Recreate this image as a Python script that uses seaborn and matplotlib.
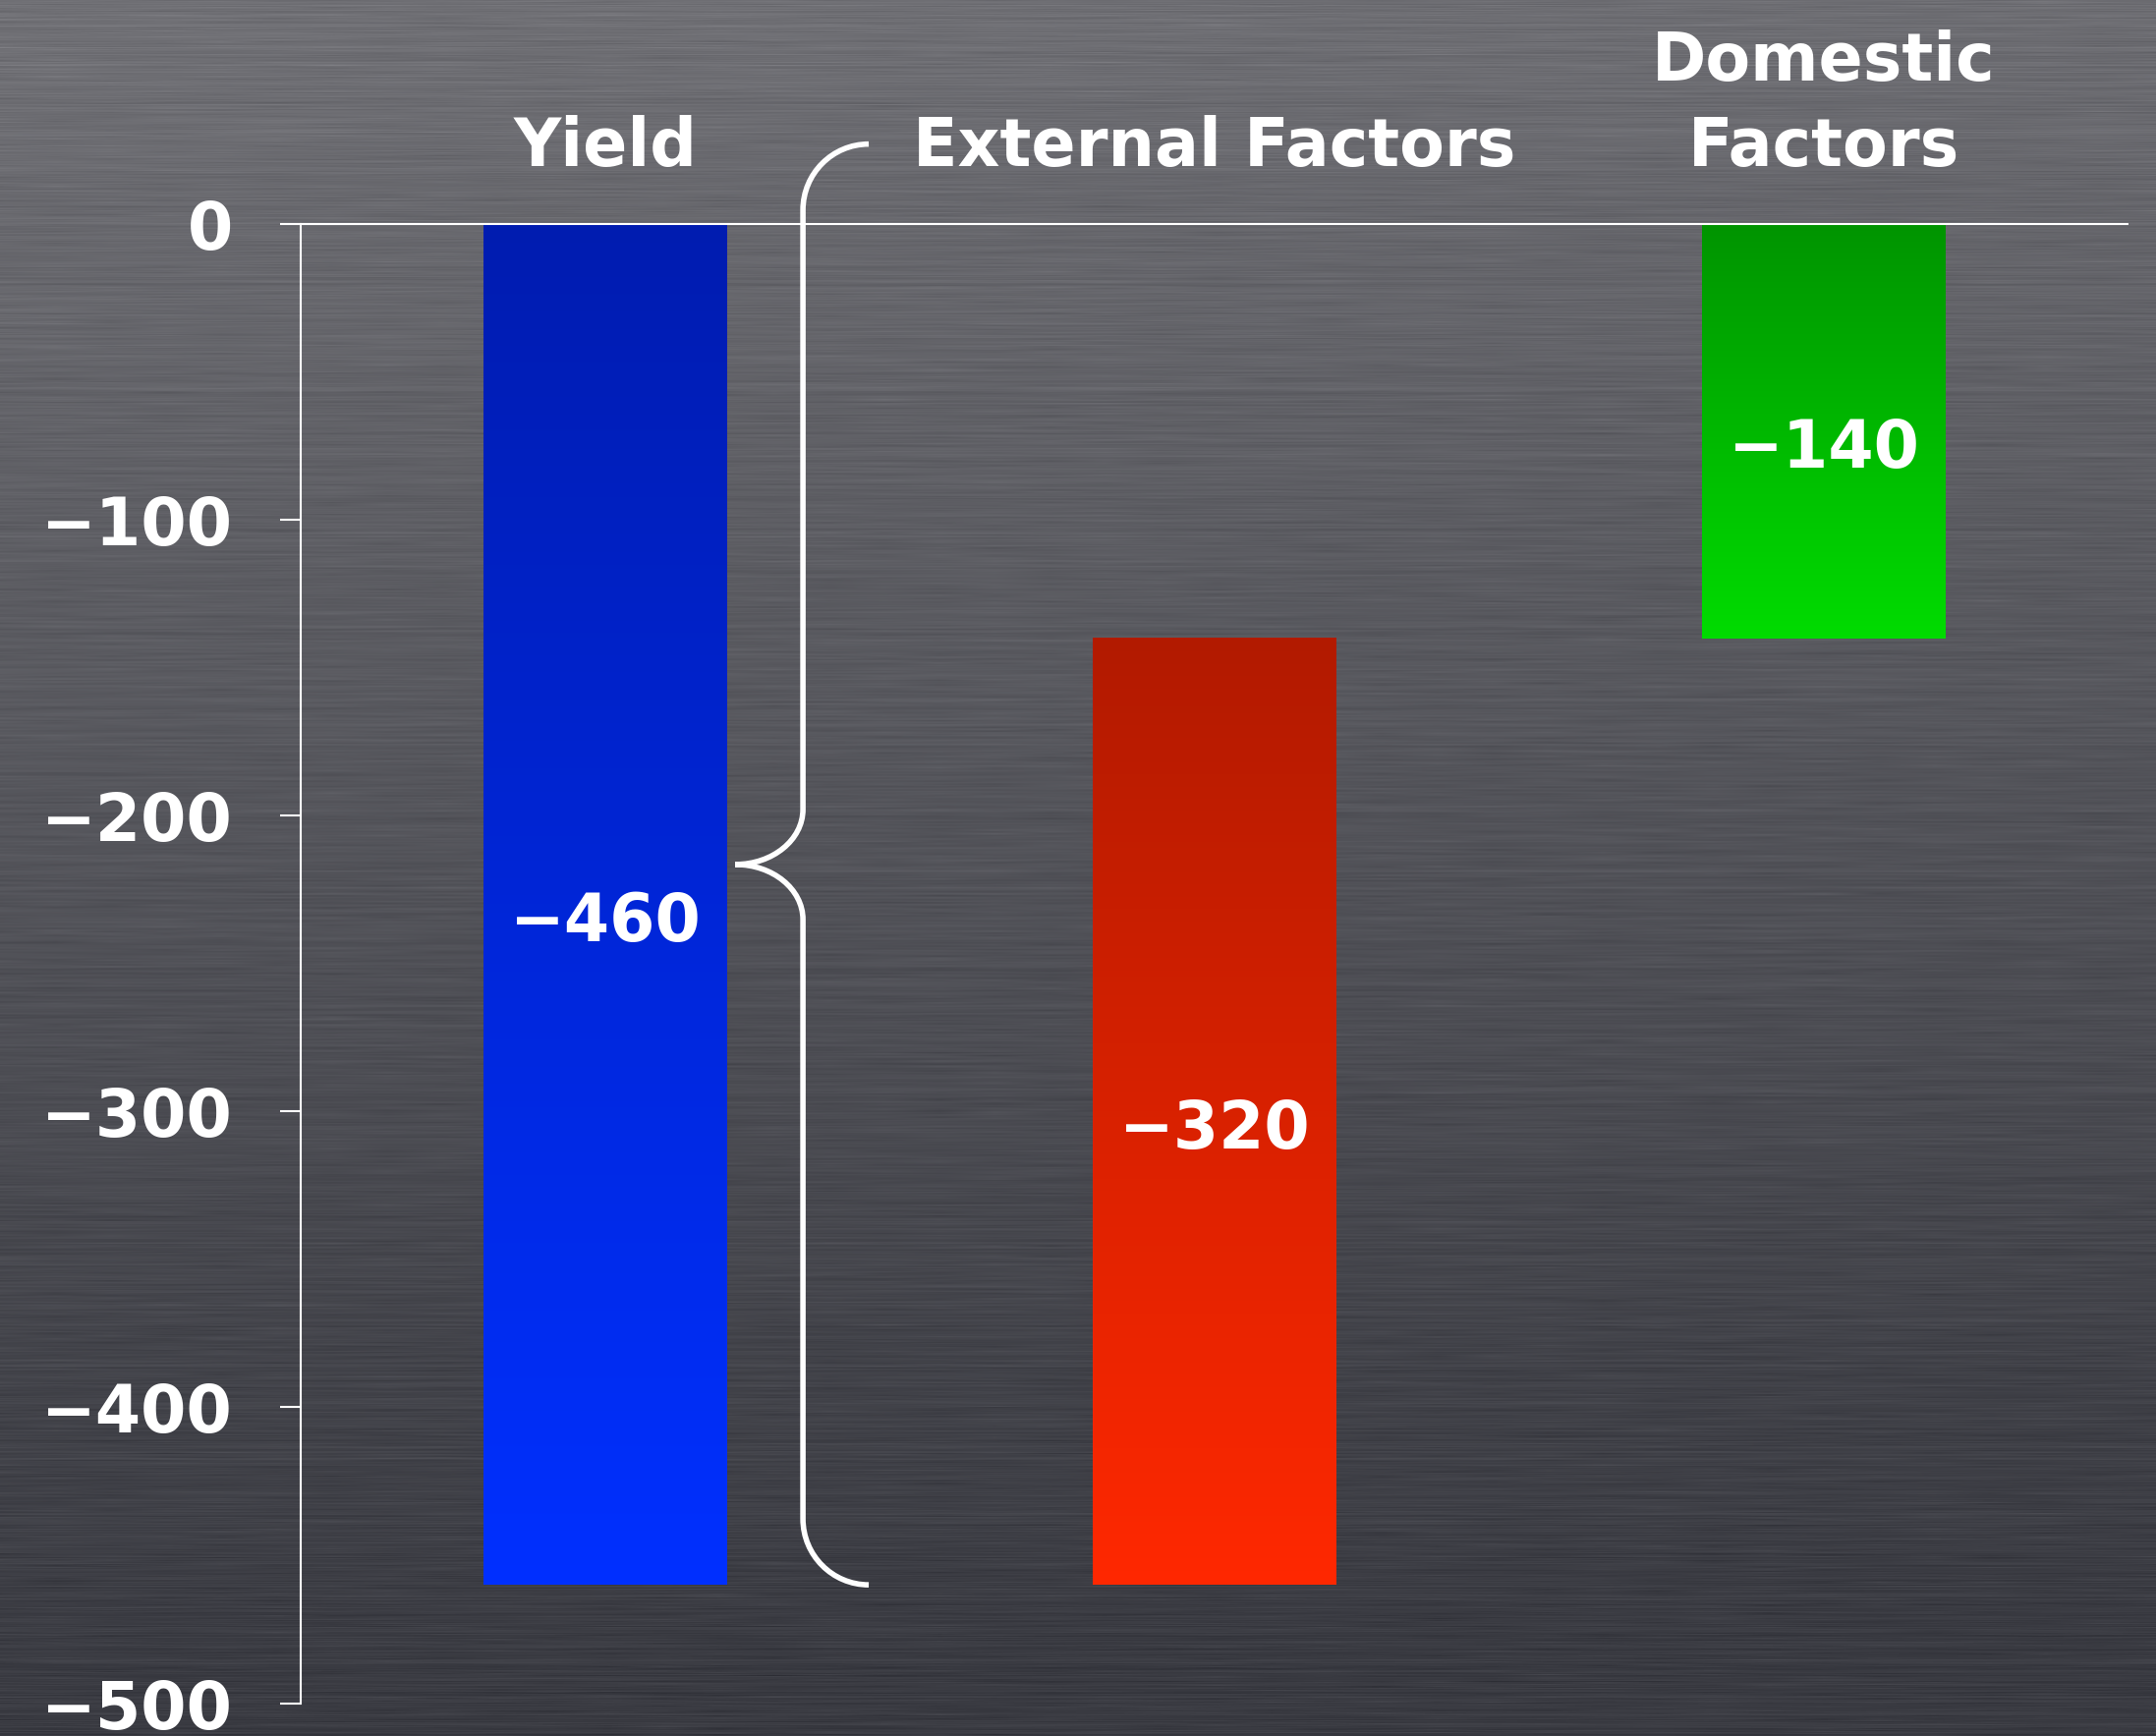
import numpy as np
import matplotlib
matplotlib.use("Agg")
import matplotlib.pyplot as plt
from matplotlib.colors import to_rgb
from matplotlib.path import Path
from matplotlib.patches import PathPatch
import seaborn as sns

# Waterfall data: each step's change and where it starts
categories = ["Yield", "External Factors", "Domestic\nFactors"]
deltas = [-460, -320, -140]
starts = [0, -140, 0]
value_labels = ["\u2212460", "\u2212320", "\u2212140"]
yticks = [0, -100, -200, -300, -400, -500]

# Vertical gradient colours (top, bottom) for each bar
bar_top_colors = ["#001cb0", "#b21a00", "#009400"]
bar_bottom_colors = ["#0030ff", "#ff2800", "#00dc00"]

sns.set_style("white")
plt.rcParams["font.family"] = ["DejaVu Sans"]

W, H = 2194, 1767
fig = plt.figure(figsize=(W / 100, H / 100), dpi=100)
ax = fig.add_axes([0, 0, 1, 1])

XLIM = (-0.994, 2.545)
YLIM = (-511.1, 75.7)

# Brushed-metal backdrop: dark gradient with horizontal streaks
rng = np.random.default_rng(11)
yy = np.linspace(0, 1, H)[:, None]
xx = np.linspace(0, 1, W)[None, :]
shade = (1 - yy) - 0.06 * xx
top_c = np.array([113, 113, 118]) / 255
bot_c = np.array([58, 59, 66]) / 255
base = bot_c[None, None, :] + (top_c - bot_c)[None, None, :] * np.clip(shade, 0, 1)[..., None] ** 1.1
coarse = rng.normal(0, 1, size=(H, 40))
xs_c = np.linspace(0, W - 1, 40)
streak = np.empty((H, W))
xi = np.arange(W)
for r in range(H):
    streak[r] = np.interp(xi, xs_c, coarse[r])
row = rng.normal(0, 1, size=(H, 1))
tex = 0.013 * streak + 0.010 * row
bg = np.clip(base + tex[..., None], 0, 1)
ax.imshow(bg, extent=(XLIM[0], XLIM[1], YLIM[0], YLIM[1]), aspect="auto",
          zorder=0, interpolation="bilinear")

# Bars through seaborn, then shifted to their waterfall start
sns.barplot(x=categories, y=deltas, ax=ax, errorbar=None, width=0.4,
            color="#0028e0", saturation=1, zorder=2)
for patch, start, c_top, c_bot in zip(ax.patches, starts, bar_top_colors, bar_bottom_colors):
    patch.set_y(start)
    patch.set_linewidth(0)
    x0 = patch.get_x()
    w = patch.get_width()
    y0 = patch.get_y()
    h = patch.get_height()
    top, bottom = max(y0, y0 + h), min(y0, y0 + h)
    t = np.linspace(0, 1, 256)[:, None]
    grad = np.array(to_rgb(c_top))[None, :] * (1 - t) + np.array(to_rgb(c_bot))[None, :] * t
    ax.imshow(grad[:, None, :], extent=(x0, x0 + w, bottom, top), aspect="auto",
              zorder=3, interpolation="bilinear")

# Value labels in the middle of each bar
for i, (start, d, lab) in enumerate(zip(starts, deltas, value_labels)):
    mid = start + d / 2
    ax.annotate(lab, (i, mid), xytext=(0, -27), textcoords="offset points",
                ha="center", va="baseline", color="white", fontsize=48,
                fontweight="bold", zorder=5)

# Category names above the zero line
for i, cat in enumerate(categories):
    ax.text(i, 14.8, cat, ha="center", va="bottom", color="white", fontsize=48,
            fontweight="bold", linespacing=1.42, zorder=5)

# Zero baseline
ax.hlines(0, -0.5, 2.5, color="white", linewidth=1.5, zorder=4)

# Curly brace grouping External + Domestic against Yield
b_top, b_bot = 27.0, deltas[0]
b_mid = (b_top + b_bot) / 2
x_end, x_bar, x_tip = 0.432, 0.324, 0.213
rx, ry = 0.108, 22.3
mrx, mry = 0.111, 18.6
k = 0.552
verts = [
    (x_end, b_top),
    (x_end - k * rx, b_top), (x_bar, b_top - ry + k * ry), (x_bar, b_top - ry),
    (x_bar, b_mid + mry),
    (x_bar, b_mid + mry - k * mry), (x_tip + k * mrx, b_mid), (x_tip, b_mid),
    (x_tip + k * mrx, b_mid), (x_bar, b_mid - mry + k * mry), (x_bar, b_mid - mry),
    (x_bar, b_bot + ry),
    (x_bar, b_bot + ry - k * ry), (x_end - k * rx, b_bot), (x_end, b_bot),
]
codes = [Path.MOVETO,
         Path.CURVE4, Path.CURVE4, Path.CURVE4,
         Path.LINETO,
         Path.CURVE4, Path.CURVE4, Path.CURVE4,
         Path.CURVE4, Path.CURVE4, Path.CURVE4,
         Path.LINETO,
         Path.CURVE4, Path.CURVE4, Path.CURVE4]
ax.add_patch(PathPatch(Path(verts, codes), facecolor="none", edgecolor="white",
                       linewidth=4, capstyle="butt", zorder=4))

# Axis styling
for side in ["top", "right", "bottom"]:
    ax.spines[side].set_visible(False)
ax.spines["left"].set_position(("data", -0.5))
ax.spines["left"].set_bounds(-500, 0)
ax.spines["left"].set_color("white")
ax.spines["left"].set_linewidth(1.5)
ax.spines["left"].set_zorder(4)
ax.set_xticks([])
ax.set_yticks(yticks)
ax.set_yticklabels([f"{v}".replace("-", "\u2212") for v in yticks])
ax.tick_params(axis="y", left=True, colors="white", length=15, width=1.5, pad=35,
               labelsize=48, direction="out")
for lbl in ax.get_yticklabels():
    lbl.set_fontweight("bold")
ax.set_xlabel("")
ax.set_ylabel("")
ax.set_xlim(*XLIM)
ax.set_ylim(*YLIM)

fig.savefig("out.png", dpi=100)
